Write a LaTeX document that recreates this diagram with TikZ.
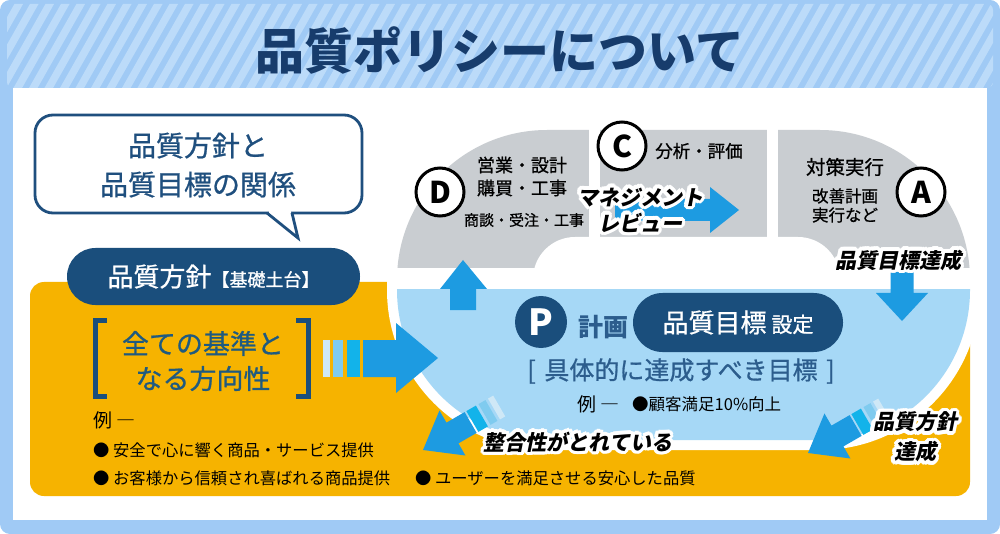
\documentclass[tikz,border=0pt]{standalone}
\usepackage{fontspec}
\setmainfont{Noto Sans CJK JP}
\newfontfamily\jpmed[FakeBold=0.8]{Noto Sans CJK JP}
\newfontfamily\jpsl[FakeSlant=0.2]{Noto Sans CJK JP}
\usetikzlibrary{calc}
\newcommand{\fsz}[1]{\fontsize{#1pt}{#1pt}\selectfont}
\newcommand{\fszb}[2]{\fontsize{#1pt}{#2pt}\selectfont}
\definecolor{framec}{HTML}{A0CAF5}
\definecolor{stripec}{HTML}{BCDBF9}
\definecolor{titlec}{HTML}{173C6C}
\definecolor{navy}{HTML}{1A4E7C}
\definecolor{calloutc}{HTML}{1F4F7E}
\definecolor{orangec}{HTML}{F6B300}
\definecolor{lblue}{HTML}{A6D8F6}
\definecolor{grayc}{HTML}{C9CDD1}
\definecolor{arrowc}{HTML}{1D9BE1}
\definecolor{bara}{HTML}{CFE8F6}
\definecolor{barb}{HTML}{7FCBEF}
\definecolor{barc}{HTML}{12B3EA}
\definecolor{tealnavy}{HTML}{1F5A80}
\definecolor{midnavy}{HTML}{2C5D8D}
\tikzset{
  halobg/.style={text=white, inner sep=0pt, align=center},
  halofg/.style={text=black, inner sep=0pt, align=center},
  pill/.style={fill=navy, text=white, inner sep=0pt},
  lettercirc/.style={circle, draw=black, line width=3pt, fill=white, minimum size=48pt, inner sep=0pt, font=\fsz{30}\bfseries},
  plain/.style={inner sep=0pt, align=center},
}
% #1 name, #2 position, #3 font, #4 text
\newcommand{\halolabel}[4]{%
  \foreach \k in {1,...,16}{%
    \node[halobg, font=#3] (#1h\k) at ($(#2)+({\k*22.5}:3.4)$) {#4};}%
  \node[halofg, font=#3] (#1) at (#2) {#4};}
\begin{document}
\begin{tikzpicture}[x=1pt,y=-1pt]
\useasboundingbox (0,0) rectangle (1000,534);
% frame
\fill[framec, rounded corners=10pt] (0,0) rectangle (1000,534);
\begin{scope}
  \clip[rounded corners=6pt] (7,4) rectangle (993,88);
  \foreach \i in {-6,...,66} \draw[stripec, line width=7.5pt] ({\i*15.5},92) -- ({\i*15.5+52},0);
\end{scope}
\node[plain, font=\fsz{49}\bfseries, text=titlec] (title) at (500,50) {品質ポリシーについて};
\fill[white] (13,88) rectangle (987,520);

% callout
\draw[calloutc, line width=2.8pt, fill=white, rounded corners=18pt] (35,115) rectangle (362,213);
\fill[white] (268.5,210) rectangle (290.8,216);
\draw[calloutc, line width=2.8pt, fill=white, line join=miter] (267,213) -- (298,238) -- (292,213);
\node[plain, font=\fszb{28}{39}\jpmed, text=calloutc] (callout) at (198,165) {品質方針と\\品質目標の関係};

% orange base
\fill[orangec, rounded corners=14pt] (30,282) rectangle (970,496);

% cycle
\fill[white, rounded corners=160pt] (387,120) rectangle (980,450);
\begin{scope}
  \clip (380,100) rectangle (1000,268);
  \fill[grayc, rounded corners=150pt] (397,130) rectangle (970,440);
\end{scope}
\fill[white] (589,120) rectangle (600,268);
\fill[white] (767,120) rectangle (778,268);
\fill[white, rounded corners=42pt] (533,237) rectangle (840,330);
\begin{scope}
  \clip (380,290) rectangle (1000,460);
  \fill[lblue, rounded corners=150pt] (397,130) rectangle (970,440);
\end{scope}

% D C A
\node[lettercirc] (D) at (440,192) {D};
\node[lettercirc] (C) at (622,146) {C};
\node[lettercirc] (A) at (921,192) {A};
\node[plain, font=\fsz{18}\jpmed] (d1) at (522,165) {営業・設計};
\node[plain, font=\fsz{18}\jpmed] (d2) at (522,188) {購買・工事};
\node[plain, font=\fsz{15}\jpmed] (d3) at (524,220) {商談・受注・工事};
\node[plain, font=\fsz{17.5}\jpmed] (c1) at (699,151) {分析・評価};
\node[plain, font=\fsz{19.5}\jpmed] (a1) at (845,167) {対策実行};
\node[plain, font=\fsz{16.5}\jpmed] (a2) at (845,196) {改善計画};
\node[plain, font=\fsz{16.5}\jpmed] (a3) at (845,215) {実行など};

% P section
\node[circle, fill=navy, minimum size=52pt, inner sep=0pt, text=white, font=\fsz{36}\bfseries] (P) at (541,322) {P};
\node[plain, font=\fsz{25}\bfseries, text=midnavy] (keikaku) at (603,327) {計画};
\node[pill, rounded corners=29.5pt, minimum width=210pt, minimum height=59pt] (goal) at (738,322.5) {\fsz{26}\jpmed 品質目標\hspace{5pt}\fsz{21}設定};
\node[plain, font=\fsz{25}\jpmed, text=midnavy] (concrete) at (681,371) {[\hspace{3pt} 具体的に達成すべき目標 \hspace{3pt}]};
\node[plain, anchor=west, font=\fsz{19}] (ex2) at (577,404) {例 ―};
\node[plain, anchor=west, font=\fsz{16.5}] (ex2b) at (632,404) {●顧客満足10\%向上};

% arrows
\fill[arrowc] (450,310) -- (450,289) -- (440,289) -- (463,260) -- (487,289) -- (476,289) -- (476,310) -- cycle;
\fill[arrowc] (890.5,272) -- (890.5,293) -- (876,293) -- (902,321) -- (928,293) -- (913.5,293) -- (913.5,272) -- cycle;
\fill[arrowc] (615,199) -- (710,199) -- (710,187) -- (739,210) -- (710,233) -- (710,221) -- (615,221) -- cycle;
\fill[bara] (323,340) rectangle (330,377);
\fill[barb] (333,340) rectangle (343,377);
\fill[barc] (347,340) rectangle (360,377);
\fill[arrowc] (363,340) -- (396,340) -- (396,323) -- (438,358) -- (396,393) -- (396,377) -- (363,377) -- cycle;
\foreach \tx/\ty in {423/450, 808/453}{
\begin{scope}[shift={(\tx,\ty)}, rotate=30]
  \fill[arrowc] (0,0) -- (34,26) -- (34,12) -- (55,12) -- (55,-12) -- (34,-12) -- (34,-26) -- cycle;
  \fill[barc] (57,12) rectangle (68,-12);
  \fill[barb] (71,12) rectangle (79,-12);
  \fill[bara] (82,12) rectangle (88,-12);
\end{scope}}

% left pill and orange content
\node[pill, rounded corners=28.5pt, minimum width=293pt, minimum height=57pt] (base) at (213.5,276.5) {\fsz{26}\jpmed 品質方針\fsz{18}【基礎土台】};
\draw[navy, line width=5pt, line join=miter] (107,320) -- (95,320) -- (95,396) -- (107,396);
\draw[navy, line width=5pt, line join=miter] (296,320) -- (308.5,320) -- (308.5,396) -- (296,396);
\node[plain, font=\fszb{27}{35}\jpmed, text=tealnavy] (dir) at (203,361) {全ての基準と\\なる方向性};
\node[plain, anchor=west, font=\fsz{19}] (ex1) at (93,420) {例 ―};
\node[plain, anchor=west, font=\fsz{16.3}] (b1) at (93,450) {● 安全で心に響く商品・サービス提供};
\node[plain, anchor=west, font=\fsz{16.3}] (b2) at (93,478) {● お客様から信頼され喜ばれる商品提供};
\node[plain, anchor=west, font=\fsz{16.3}] (b3) at (415,478) {● ユーザーを満足させる安心した品質};

% halo labels
\halolabel{mr}{640,210}{\fszb{21}{26}\jpsl\bfseries}{マネジメント\\レビュー}
\halolabel{qa}{898,260}{\fsz{21}\jpsl\bfseries}{品質目標達成}
\halolabel{qp}{915,437}{\fszb{21}{30}\jpsl\bfseries}{品質方針\\達成}
\halolabel{seigo}{578,442}{\fsz{21}\jpsl\bfseries}{整合性がとれている}
\end{tikzpicture}
\end{document}
